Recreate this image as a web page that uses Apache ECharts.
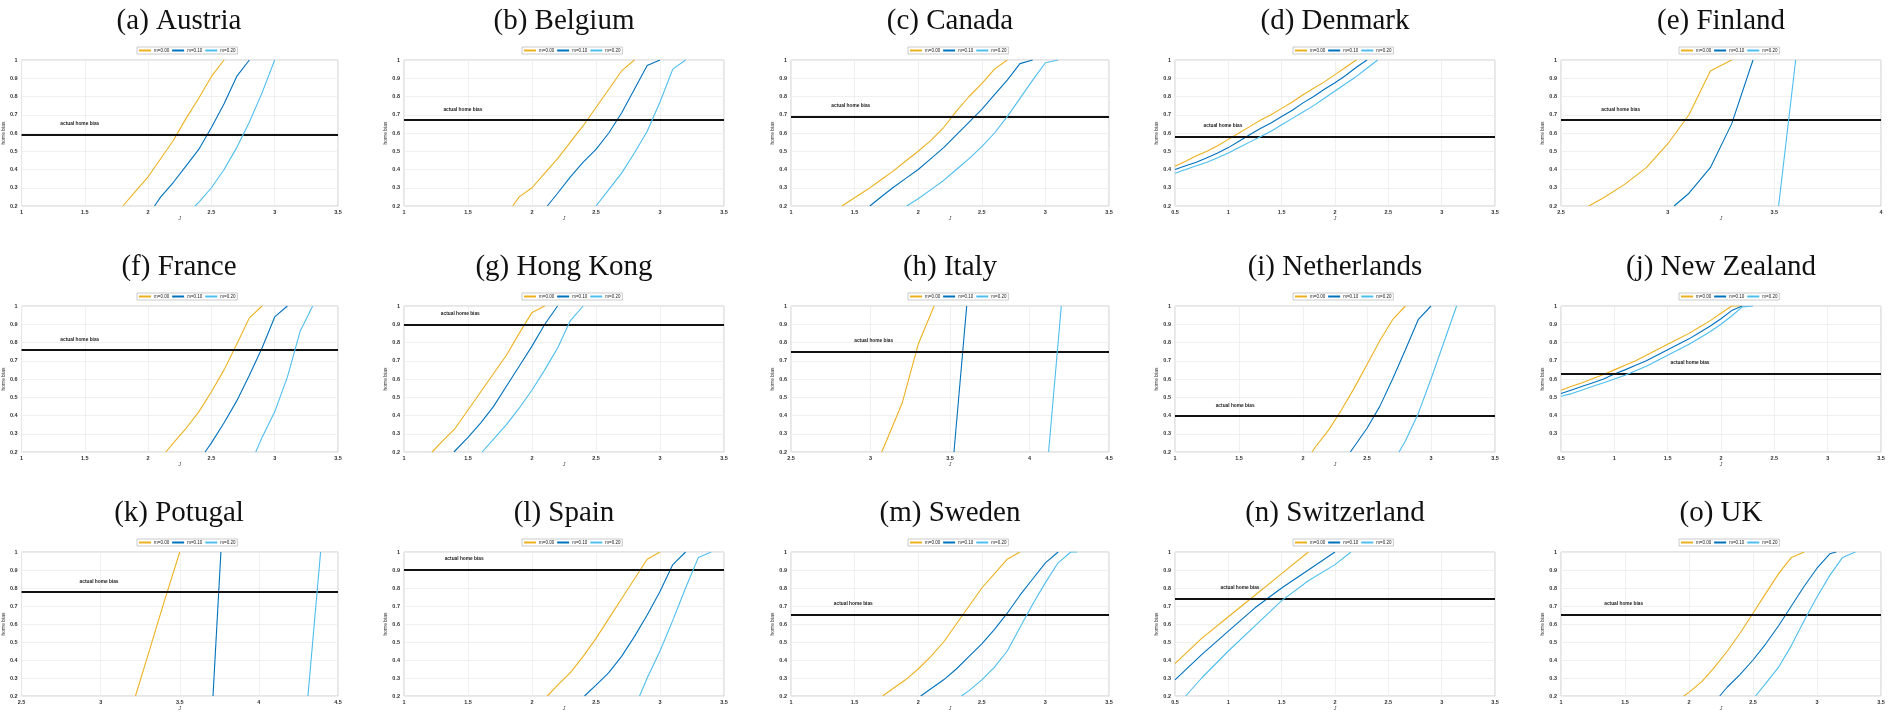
<!DOCTYPE html>
<html><head><meta charset="utf-8">
<script src="https://cdn.jsdelivr.net/npm/echarts@6/dist/echarts.min.js"></script>
<style>html,body{margin:0;padding:0;background:#fff}#c{width:1898px;height:712px}</style>
</head><body><div id="c"></div>
<script>
const titles = ['(a) Austria','(b) Belgium','(c) Canada','(d) Denmark','(e) Finland',
  '(f) France','(g) Hong Kong','(h) Italy','(i) Netherlands','(j) New Zealand',
  '(k) Potugal','(l) Spain','(m) Sweden','(n) Switzerland','(o) UK'];
const seriesNames = ['m=0.00','m=0.10','m=0.20'];
const xMin = [1,1,1,0.5,2.5, 1,1,2.5,1,0.5, 2.5,1,1,0.5,1];
const xMax = [3.5,3.5,3.5,3.5,4, 3.5,3.5,4.5,3.5,3.5, 4.5,3.5,3.5,3.5,3.5];
const yMin = 0.2, yMax = 1, yStep = 0.1, xStep = 0.5;
const actualBias = [0.59,0.667,0.69,0.58,0.67, 0.755,0.9,0.75,0.395,0.627, 0.775,0.9,0.65,0.74,0.65];
const biasLabelX = [1.46,1.46,1.47,0.95,2.78, 1.46,1.44,3.02,1.47,1.71, 2.99,1.47,1.49,1.11,1.49];

// curves: [J, home bias] for m = 0.00
const m000 = [
 [[1.8,0.2],[1.9,0.28],[2.0,0.36],[2.1,0.46],[2.2,0.56],[2.3,0.68],[2.4,0.79],[2.5,0.91],[2.6,1.0]],
 [[1.85,0.2],[1.9,0.25],[2.0,0.3],[2.1,0.38],[2.2,0.46],[2.3,0.55],[2.4,0.64],[2.5,0.74],[2.6,0.84],[2.7,0.94],[2.8,1.0]],
 [[1.4,0.2],[1.5,0.245],[1.6,0.29],[1.7,0.34],[1.8,0.39],[1.9,0.445],[2.0,0.5],[2.1,0.56],[2.2,0.63],[2.3,0.72],[2.4,0.8],[2.5,0.87],[2.6,0.95],[2.7,1.0]],
 [[0.5,0.418],[0.6,0.445],[0.7,0.475],[0.8,0.5],[0.9,0.53],[1.0,0.565],[1.1,0.6],[1.2,0.635],[1.3,0.67],[1.4,0.7],[1.5,0.735],[1.6,0.77],[1.7,0.81],[1.8,0.845],[1.9,0.88],[2.0,0.92],[2.1,0.96],[2.2,1.0]],
 [[2.63,0.2],[2.7,0.245],[2.8,0.32],[2.9,0.41],[3.0,0.54],[3.1,0.7],[3.2,0.94],[3.3,1.0]],
 [[2.14,0.2],[2.2,0.25],[2.3,0.33],[2.4,0.42],[2.5,0.53],[2.6,0.65],[2.7,0.79],[2.8,0.935],[2.9,1.0]],
 [[1.22,0.2],[1.3,0.26],[1.4,0.33],[1.5,0.43],[1.6,0.53],[1.7,0.63],[1.8,0.73],[1.9,0.85],[2.0,0.965],[2.1,1.0]],
 [[3.07,0.2],[3.1,0.26],[3.2,0.47],[3.3,0.79],[3.4,1.0]],
 [[2.07,0.2],[2.1,0.23],[2.2,0.32],[2.3,0.43],[2.4,0.55],[2.5,0.68],[2.6,0.81],[2.7,0.925],[2.8,1.0]],
 [[0.5,0.538],[0.6,0.56],[0.7,0.58],[0.8,0.603],[0.9,0.625],[1.0,0.65],[1.1,0.675],[1.2,0.7],[1.3,0.73],[1.4,0.76],[1.5,0.79],[1.6,0.82],[1.7,0.85],[1.8,0.885],[1.9,0.92],[2.0,0.96],[2.1,1.0],[2.2,1.0]],
 [[3.22,0.2],[3.3,0.43],[3.4,0.72],[3.5,1.0]],
 [[2.12,0.2],[2.2,0.26],[2.3,0.33],[2.4,0.42],[2.5,0.52],[2.6,0.63],[2.7,0.74],[2.8,0.85],[2.9,0.96],[3.0,1.0]],
 [[1.72,0.2],[1.8,0.24],[1.9,0.29],[2.0,0.35],[2.1,0.42],[2.2,0.5],[2.3,0.6],[2.4,0.7],[2.5,0.8],[2.6,0.88],[2.7,0.96],[2.8,1.0]],
 [[0.5,0.38],[0.75,0.52],[1.0,0.64],[1.25,0.76],[1.5,0.88],[1.75,1.0]],
 [[1.96,0.2],[2.0,0.22],[2.1,0.28],[2.2,0.36],[2.3,0.45],[2.4,0.55],[2.5,0.66],[2.6,0.77],[2.7,0.88],[2.8,0.97],[2.9,1.0]]
];
// m = 0.10
const m010 = [
 [[2.05,0.2],[2.1,0.25],[2.2,0.33],[2.3,0.42],[2.4,0.51],[2.5,0.63],[2.6,0.76],[2.7,0.91],[2.8,1.0]],
 [[2.12,0.2],[2.2,0.27],[2.3,0.36],[2.4,0.44],[2.5,0.51],[2.6,0.6],[2.7,0.71],[2.8,0.84],[2.9,0.97],[3.0,1.0]],
 [[1.62,0.2],[1.7,0.245],[1.8,0.3],[1.9,0.35],[2.0,0.4],[2.1,0.46],[2.2,0.52],[2.3,0.59],[2.4,0.66],[2.5,0.73],[2.6,0.81],[2.7,0.89],[2.8,0.98],[2.9,1.0]],
 [[0.5,0.4],[0.6,0.42],[0.7,0.44],[0.8,0.465],[0.9,0.49],[1.0,0.52],[1.1,0.555],[1.2,0.59],[1.3,0.625],[1.4,0.655],[1.5,0.69],[1.6,0.725],[1.7,0.765],[1.8,0.8],[1.9,0.84],[2.0,0.875],[2.1,0.915],[2.2,0.96],[2.3,1.0]],
 [[3.03,0.2],[3.1,0.27],[3.2,0.41],[3.3,0.65],[3.4,1.0]],
 [[2.45,0.2],[2.5,0.25],[2.6,0.36],[2.7,0.48],[2.8,0.62],[2.9,0.77],[3.0,0.94],[3.1,1.0]],
 [[1.39,0.2],[1.5,0.28],[1.6,0.36],[1.7,0.45],[1.8,0.56],[1.9,0.67],[2.0,0.78],[2.1,0.9],[2.2,1.0]],
 [[3.525,0.2],[3.605,1.0]],
 [[2.37,0.2],[2.4,0.23],[2.5,0.33],[2.6,0.45],[2.7,0.6],[2.8,0.76],[2.9,0.925],[3.0,1.0]],
 [[0.5,0.52],[0.6,0.54],[0.7,0.56],[0.8,0.58],[0.9,0.6],[1.0,0.627],[1.1,0.65],[1.2,0.675],[1.3,0.7],[1.4,0.73],[1.5,0.76],[1.6,0.79],[1.7,0.82],[1.8,0.855],[1.9,0.89],[2.0,0.93],[2.1,0.975],[2.2,1.0]],
 [[3.71,0.2],[3.76,1.0]],
 [[2.41,0.2],[2.5,0.26],[2.6,0.33],[2.7,0.42],[2.8,0.53],[2.9,0.65],[3.0,0.78],[3.1,0.93],[3.2,1.0]],
 [[2.02,0.2],[2.1,0.24],[2.2,0.29],[2.3,0.35],[2.4,0.42],[2.5,0.49],[2.6,0.57],[2.7,0.66],[2.8,0.76],[2.9,0.85],[3.0,0.94],[3.1,1.0]],
 [[0.5,0.29],[0.75,0.43],[1.0,0.56],[1.25,0.69],[1.5,0.8],[1.75,0.9],[2.0,1.0]],
 [[2.24,0.2],[2.3,0.25],[2.4,0.32],[2.5,0.4],[2.6,0.49],[2.7,0.59],[2.8,0.7],[2.9,0.81],[3.0,0.91],[3.1,0.99],[3.15,1.0]]
];
// m = 0.20
const m020 = [
 [[2.37,0.2],[2.4,0.22],[2.5,0.3],[2.6,0.4],[2.7,0.52],[2.8,0.66],[2.9,0.82],[3.0,1.0]],
 [[2.5,0.2],[2.6,0.29],[2.7,0.38],[2.8,0.49],[2.9,0.61],[3.0,0.77],[3.1,0.95],[3.2,1.0]],
 [[1.91,0.2],[2.0,0.24],[2.1,0.29],[2.2,0.34],[2.3,0.4],[2.4,0.46],[2.5,0.525],[2.6,0.6],[2.7,0.69],[2.8,0.79],[2.9,0.89],[3.0,0.985],[3.1,1.0]],
 [[0.5,0.38],[0.6,0.4],[0.7,0.42],[0.8,0.44],[0.9,0.465],[1.0,0.49],[1.1,0.52],[1.2,0.55],[1.3,0.58],[1.4,0.61],[1.5,0.645],[1.6,0.68],[1.7,0.715],[1.8,0.75],[1.9,0.79],[2.0,0.83],[2.1,0.87],[2.2,0.91],[2.3,0.955],[2.4,1.0]],
 [[3.52,0.2],[3.6,1.0]],
 [[2.85,0.2],[2.9,0.28],[3.0,0.42],[3.1,0.61],[3.2,0.86],[3.3,1.0]],
 [[1.61,0.2],[1.7,0.27],[1.8,0.35],[1.9,0.44],[2.0,0.54],[2.1,0.65],[2.2,0.77],[2.3,0.92],[2.4,1.0]],
 [[4.12,0.2],[4.2,1.0]],
 [[2.75,0.2],[2.8,0.26],[2.9,0.41],[3.0,0.6],[3.1,0.8],[3.2,1.0]],
 [[0.5,0.505],[0.6,0.52],[0.7,0.54],[0.8,0.56],[0.9,0.58],[1.0,0.6],[1.1,0.62],[1.2,0.645],[1.3,0.67],[1.4,0.7],[1.5,0.73],[1.6,0.76],[1.7,0.79],[1.8,0.825],[1.9,0.86],[2.0,0.9],[2.1,0.945],[2.2,0.995],[2.3,1.0]],
 [[4.31,0.2],[4.39,1.0]],
 [[2.84,0.2],[2.9,0.3],[3.0,0.45],[3.1,0.62],[3.2,0.8],[3.3,0.97],[3.4,1.0]],
 [[2.34,0.2],[2.4,0.23],[2.5,0.29],[2.6,0.36],[2.7,0.45],[2.8,0.58],[2.9,0.71],[3.0,0.83],[3.1,0.94],[3.2,1.0],[3.25,1.0]],
 [[0.6,0.2],[0.75,0.3],[1.0,0.45],[1.25,0.59],[1.5,0.73],[1.75,0.84],[2.0,0.93],[2.15,1.0]],
 [[2.52,0.2],[2.6,0.27],[2.7,0.36],[2.8,0.48],[2.9,0.62],[3.0,0.75],[3.1,0.87],[3.2,0.97],[3.3,1.0]]
];

// layout (pixels)
const colLeft = [20, 404, 791, 1175, 1561];
const colWidth = [318, 320, 318, 320, 320];
const rowTop = [60, 306, 552];
const plotH = 146;
const lineColors = ['#EDB120', '#0072BD', '#4DBEEE'];
const tickFont = {fontSize: 5.5, fontWeight: 'bold', color: '#333', fontFamily: 'Liberation Sans'};

const grids = [], xAxes = [], yAxes = [], series = [], legends = [], graphics = [];
const curveSets = [m000, m010, m020];
titles.forEach((t, i) => {
  const r = Math.floor(i / 5), c = i % 5;
  const left = colLeft[c], top = rowTop[r], w = colWidth[c];
  grids.push({left: left, top: top, width: w, height: plotH, show: true,
    borderColor: '#cdcdcd', borderWidth: 1, containLabel: false});
  xAxes.push({type: 'value', gridIndex: i, min: xMin[i], max: xMax[i], interval: xStep,
    name: 'J', nameLocation: 'middle', nameGap: 10,
    nameTextStyle: {fontSize: 5, fontStyle: 'italic', color: '#333', fontFamily: 'Liberation Sans'},
    axisLine: {show: false}, axisTick: {show: false},
    axisLabel: Object.assign({margin: 3, formatter: v => String(+v.toFixed(1))}, tickFont),
    splitLine: {show: true, lineStyle: {color: '#ececec', width: 0.8}}});
  yAxes.push({type: 'value', gridIndex: i, min: yMin, max: yMax, interval: yStep,
    name: 'home bias', nameLocation: 'middle', nameGap: 13, nameRotate: 90,
    nameTextStyle: {fontSize: 5, color: '#333', fontFamily: 'Liberation Sans'},
    axisLine: {show: false}, axisTick: {show: false},
    axisLabel: Object.assign({margin: 4, showMinLabel: i !== 9,
      formatter: v => (Math.abs(v - 1) < 1e-9 ? '1' : v.toFixed(1))}, tickFont),
    splitLine: {show: true, lineStyle: {color: '#ececec', width: 0.8}}});
  curveSets.forEach((set, k) => {
    const s = {name: seriesNames[k], type: 'line', xAxisIndex: i, yAxisIndex: i,
      data: set[i], symbol: 'none', showSymbol: false, clip: true,
      lineStyle: {width: 1.1, color: lineColors[k]}, itemStyle: {color: lineColors[k]},
      z: 3 + k};
    if (k === 0) {
      s.markLine = {silent: true, symbol: ['none', 'none'], label: {show: false},
        lineStyle: {color: '#111', width: 2, type: 'solid'},
        data: [{yAxis: actualBias[i]}]};
      s.markPoint = {silent: true, symbol: 'rect', symbolSize: 0,
        label: {show: true, formatter: 'actual home bias', offset: [0, -11],
          fontSize: 4.8, fontWeight: 'bold', color: '#222', fontFamily: 'Liberation Sans'},
        data: [{coord: [biasLabelX[i], actualBias[i]]}]};
    }
    series.push(s);
  });
  legends.push({data: seriesNames, top: top - 13, left: left + w / 2 - 42,
    orient: 'horizontal', itemWidth: 12, itemHeight: 2, itemGap: 3,
    padding: [1, 2], borderColor: '#aaa', borderWidth: 0.6, backgroundColor: '#fff',
    icon: 'rect', selectedMode: false,
    textStyle: {fontSize: 4.5, color: '#222', fontFamily: 'Liberation Sans', padding: [0, 0, 0, -2]}});
  graphics.push({type: 'text', x: left + w / 2, y: top - 39,
    style: {text: t, fontSize: 29, fontFamily: 'Liberation Serif', fill: '#111',
      textAlign: 'center', textVerticalAlign: 'middle'}});
});

const chart = echarts.init(document.getElementById('c'), null, {renderer: 'canvas'});
chart.setOption({
  animation: false,
  backgroundColor: '#fff',
  grid: grids, xAxis: xAxes, yAxis: yAxes, series: series, legend: legends,
  graphic: graphics
});
</script>
</body></html>
